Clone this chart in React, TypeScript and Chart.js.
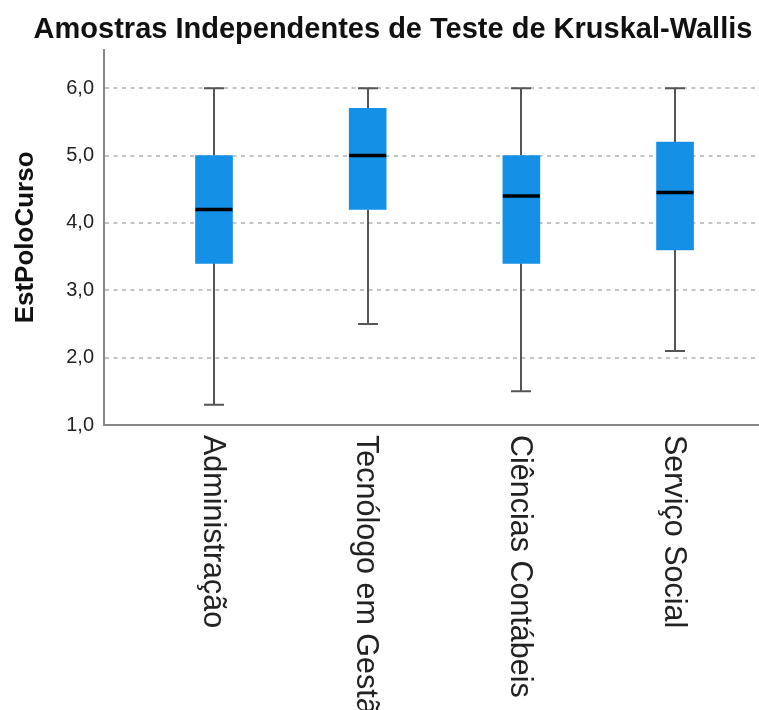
import React, { useEffect, useRef } from "react";
import { Chart, registerables } from "chart.js";

Chart.register(...registerables);

const chartTitle = "Amostras Independentes de Teste de Kruskal-Wallis";
const yAxisTitle = "EstPoloCurso";
const categories = ["Administração", "Tecnólogo em Gestão", "Ciências Contábeis", "Serviço Social"];
const whiskerLow = [1.3, 2.5, 1.5, 2.1];
const quartile1 = [3.4, 4.2, 3.4, 3.6];
const medians = [4.2, 5.0, 4.4, 4.45];
const quartile3 = [5.0, 5.7, 5.0, 5.2];
const whiskerHigh = [6.0, 6.0, 6.0, 6.0];
const yTicks = [1, 2, 3, 4, 5, 6];

const FONT = "'Liberation Sans', Arial, sans-serif";
const BOX_W = 37;
const CAP_W = 20;

const boxPlugin = {
  id: "boxExtras",
  beforeDatasetsDraw(chart: any) {
    const { ctx, scales } = chart;
    const xs = scales.x, ys = scales.y;
    ctx.save();
    ctx.strokeStyle = "#555555";
    ctx.lineWidth = 2;
    categories.forEach((_, i) => {
      const x = Math.round(xs.getPixelForValue(i));
      const yLo = ys.getPixelForValue(whiskerLow[i]);
      const yHi = ys.getPixelForValue(whiskerHigh[i]);
      const yQ1 = ys.getPixelForValue(quartile1[i]);
      const yQ3 = ys.getPixelForValue(quartile3[i]);
      ctx.beginPath();
      ctx.moveTo(x, yLo);
      ctx.lineTo(x, yQ1);
      ctx.moveTo(x, yQ3);
      ctx.lineTo(x, yHi);
      ctx.moveTo(x - CAP_W / 2, yLo);
      ctx.lineTo(x + CAP_W / 2, yLo);
      ctx.moveTo(x - CAP_W / 2, yHi);
      ctx.lineTo(x + CAP_W / 2, yHi);
      ctx.stroke();
    });
    ctx.restore();
  },
  afterDatasetsDraw(chart: any) {
    const { ctx, scales } = chart;
    const xs = scales.x, ys = scales.y;
    ctx.save();
    ctx.strokeStyle = "#000000";
    ctx.lineWidth = 3.5;
    categories.forEach((_, i) => {
      const x = xs.getPixelForValue(i);
      const y = ys.getPixelForValue(medians[i]);
      ctx.beginPath();
      ctx.moveTo(x - BOX_W / 2, y);
      ctx.lineTo(x + BOX_W / 2, y);
      ctx.stroke();
    });
    // rotated category labels (reading top to bottom)
    ctx.fillStyle = "#222222";
    ctx.font = `30.5px ${FONT}`;
    ctx.textAlign = "left";
    ctx.textBaseline = "middle";
    const yTop = xs.top + 10;
    categories.forEach((label, i) => {
      const x = xs.getPixelForValue(i);
      ctx.save();
      ctx.translate(x - 2, yTop);
      ctx.rotate(Math.PI / 2);
      ctx.fillText(label, 0, 0);
      ctx.restore();
    });
    ctx.restore();
  },
};

export default function App() {
  const ref = useRef<HTMLCanvasElement | null>(null);
  useEffect(() => {
    if (!ref.current) return;
    const chart = new Chart(ref.current, {
      type: "bar",
      data: {
        datasets: [
          {
            data: categories.map((_, i) => ({ x: i, y: [quartile1[i], quartile3[i]] })) as any,
            backgroundColor: "#1490e6",
            borderWidth: 0,
            barThickness: BOX_W,
          },
        ],
      },
      options: {
        animation: false,
        responsive: false,
        devicePixelRatio: 1,
        layout: { padding: 0 },
        plugins: {
          legend: { display: false },
          tooltip: { enabled: false },
          title: {
            display: true,
            text: chartTitle,
            color: "#111111",
            font: { family: FONT, size: 29, weight: "bold" },
            padding: { top: 13, bottom: 2 },
          },
        },
        scales: {
          x: {
            type: "linear",
            offset: false,
            min: -0.7157,
            max: 3.722,
            ticks: { display: false },
            grid: { display: false },
            border: { display: true, color: "#888888", width: 2 },
            afterFit: (s: any) => {
              s.height = 285;
            },
          },
          y: {
            type: "linear",
            min: 1,
            max: 6.57,
            afterBuildTicks: (s: any) => {
              s.ticks = yTicks.map((v) => ({ value: v }));
            },
            afterFit: (s: any) => {
              s.width = 104;
            },
            ticks: {
              color: "#222222",
              font: { family: FONT, size: 20 },
              padding: 10,
              callback: (v: any) => Number(v).toFixed(1).replace(".", ","),
            },
            grid: { color: "#c4c4c4", lineWidth: 2, drawTicks: false },
            border: { display: true, color: "#888888", width: 2, dash: [4, 4.5] },
            title: {
              display: true,
              text: yAxisTitle,
              color: "#111111",
              font: { family: FONT, size: 26, weight: "bold" },
              padding: { top: 10, bottom: 0 },
            },
          },
        },
      },
      plugins: [boxPlugin],
    });
    return () => chart.destroy();
  }, []);
  return (
    <div style={{ position: "fixed", left: 0, top: 0, width: 759, height: 710, overflow: "hidden", background: "#fff" }}>
      <canvas ref={ref} width={786} height={710} style={{ width: 786, height: 710, display: "block" }} />
    </div>
  );
}
